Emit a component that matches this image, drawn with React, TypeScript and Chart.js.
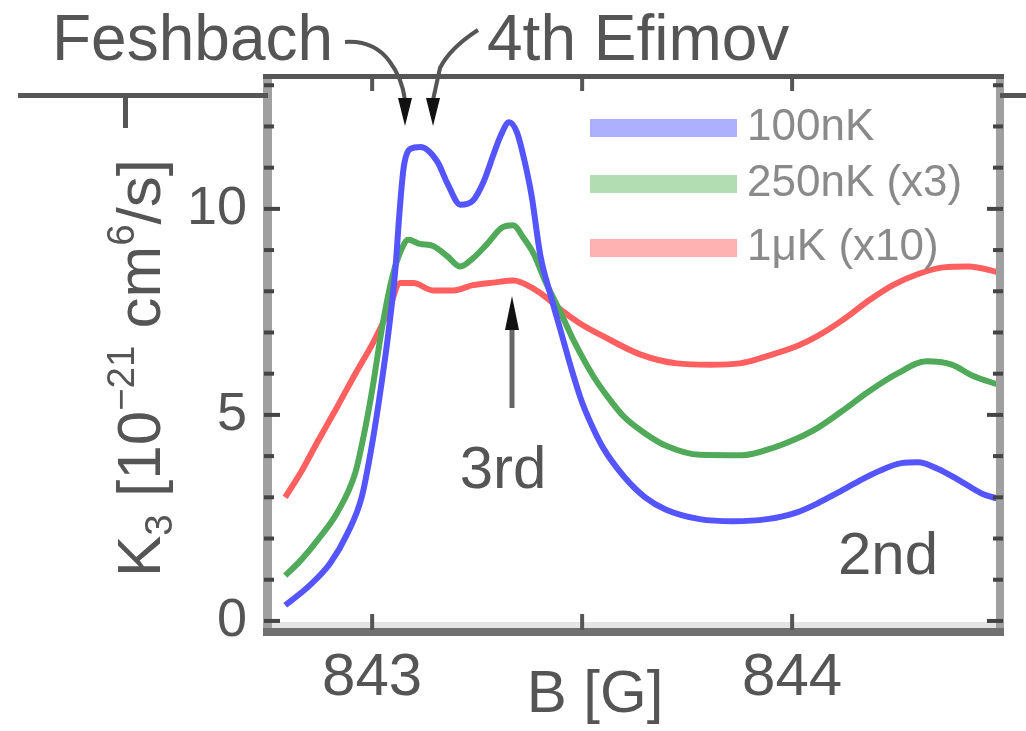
import React, { useEffect, useRef } from 'react';
import { Chart, registerables } from 'chart.js';

Chart.register(...registerables);

const FONT = "'Liberation Sans', Arial, sans-serif";

// ---- data ----
const xTickValues = [843, 844];
const xMinorTicks = [843, 843.5, 844];
const yTickValues = [0, 5, 10];

const seriesLabels = ['100nK', '250nK (x3)', '1\u03bcK (x10)'];

const blueX = [842.793, 842.85, 842.9, 842.94, 842.975, 843.0, 843.02, 843.04, 843.055, 843.065, 843.075, 843.09, 843.115, 843.155, 843.18, 843.21, 843.24, 843.265, 843.29, 843.307, 843.326, 843.345, 843.362, 843.38, 843.4, 843.425, 843.45, 843.475, 843.5, 843.525, 843.55, 843.6, 843.65, 843.7, 843.78, 843.86, 843.94, 844.01, 844.06, 844.11, 844.16, 844.21, 844.26, 844.3, 844.345, 844.4, 844.45, 844.495];
const blueY = [0.38, 0.85, 1.4, 2.1, 3.0, 4.3, 5.6, 7.1, 8.5, 9.9, 11.0, 11.45, 11.5, 11.15, 10.6, 10.1, 10.2, 10.65, 11.35, 11.8, 12.1, 11.85, 11.2, 10.3, 8.9, 7.9, 7.0, 6.1, 5.3, 4.7, 4.2, 3.5, 3.0, 2.7, 2.47, 2.42, 2.47, 2.63, 2.85, 3.12, 3.4, 3.65, 3.83, 3.85, 3.7, 3.4, 3.1, 2.95];

const greenX = [842.793, 842.83, 842.87, 842.917, 842.96, 842.98, 843.0, 843.025, 843.048, 843.067, 843.086, 843.114, 843.145, 843.179, 843.21, 843.24, 843.274, 843.31, 843.336, 843.36, 843.385, 843.412, 843.448, 843.483, 843.526, 843.56, 843.6, 843.65, 843.7, 843.78, 843.88, 843.96, 844.01, 844.06, 844.12, 844.18, 844.25, 844.32, 844.38, 844.43, 844.495];
const greenY = [1.1, 1.47, 1.96, 2.63, 3.6, 4.5, 5.6, 7.2, 8.35, 8.95, 9.25, 9.15, 9.1, 8.85, 8.6, 8.8, 9.15, 9.55, 9.6, 9.3, 8.9, 8.25, 7.5, 6.74, 5.95, 5.45, 4.95, 4.55, 4.25, 4.03, 4.02, 4.22, 4.42, 4.68, 5.1, 5.55, 6.0, 6.3, 6.22, 5.95, 5.72];

const redX = [842.793, 842.83, 842.87, 842.917, 842.96, 843.002, 843.038, 843.067, 843.098, 843.145, 843.193, 843.24, 843.288, 843.336, 843.383, 843.417, 843.448, 843.495, 843.55, 843.638, 843.726, 843.805, 843.876, 843.948, 844.012, 844.06, 844.12, 844.186, 844.24, 844.3, 844.36, 844.42, 844.495];
const redY = [3.0, 3.6, 4.35, 5.2, 6.0, 6.75, 7.5, 8.2, 8.2, 8.02, 8.02, 8.15, 8.21, 8.26, 8.07, 7.83, 7.56, 7.22, 6.91, 6.47, 6.25, 6.22, 6.25, 6.45, 6.67, 6.91, 7.3, 7.8, 8.15, 8.42, 8.58, 8.6, 8.45];

const seriesColors = ['rgb(85,85,255)', 'rgb(80,170,90)', 'rgb(255,95,95)'];
const legendColors = ['rgb(172,176,255)', 'rgb(178,220,178)', 'rgb(255,178,178)'];

const zip = (xs: number[], ys: number[]) => xs.map((x, i) => ({ x, y: ys[i] }));

type Seg = { t: string; sub?: boolean; sup?: boolean };

function drawRich(ctx: CanvasRenderingContext2D, segs: Seg[], x: number, y: number, size: number) {
  const widths = segs.map((s) => {
    const fs = s.sub || s.sup ? size * 0.62 : size;
    ctx.font = `${fs}px ${FONT}`;
    return ctx.measureText(s.t).width;
  });
  const total = widths.reduce((a, b) => a + b, 0);
  let cx = x - total / 2;
  ctx.textAlign = 'left';
  ctx.textBaseline = 'alphabetic';
  segs.forEach((s, i) => {
    const fs = s.sub || s.sup ? size * 0.62 : size;
    ctx.font = `${fs}px ${FONT}`;
    const dy = s.sup ? -size * 0.42 : s.sub ? size * 0.2 : 0;
    ctx.fillText(s.t, cx, y + dy);
    cx += widths[i];
  });
}

const decorPlugin = {
  id: 'decor',
  afterDraw(chart: any) {
    const { ctx, chartArea: a, scales } = chart;
    const xs = scales.x;
    const ys = scales.y;
    ctx.save();
    const w = a.right - a.left;
    const h = a.bottom - a.top;
    // frame
    ctx.fillStyle = '#e4e4e4';
    ctx.fillRect(a.left, a.bottom - 8, w, 6);
    ctx.fillStyle = '#a0a0a0';
    ctx.fillRect(a.left - 5, a.top - 2, 9, h + 6);
    ctx.fillRect(a.right - 4, a.top - 2, 8, h + 6);
    ctx.fillStyle = '#707070';
    ctx.fillRect(a.left - 5, a.bottom - 2, w + 9, 8);
    ctx.fillStyle = '#555';
    ctx.fillRect(a.left - 5, a.top - 3, w + 9, 5);
    // y ticks
    ctx.fillStyle = '#444';
    for (let v = 0; v <= 13; v++) {
      const py = ys.getPixelForValue(v);
      const major = v % 5 === 0;
      const len = major ? 16 : 10;
      ctx.fillRect(a.left - 4, py - 2, len, 4);
      ctx.fillRect(a.right + 3 - len, py - 2, len, 4);
    }
    // x ticks
    ctx.fillStyle = '#555';
    xMinorTicks.forEach((v) => {
      const px = xs.getPixelForValue(v);
      ctx.fillRect(px - 2, a.bottom - 16, 4, 16);
      ctx.fillRect(px - 2, a.top, 4, 14);
    });
    // side lines
    ctx.fillStyle = '#555';
    ctx.fillRect(18, 93, a.left - 18, 5);
    ctx.fillRect(123, 93, 5, 35);
    ctx.fillRect(a.right, 93, 1026 - a.right, 5);

    // legend
    const legY = [128, 184, 248];
    seriesLabels.forEach((lab, i) => {
      ctx.fillStyle = legendColors[i];
      ctx.fillRect(590, legY[i] - 9, 147, 18);
      ctx.fillStyle = '#8a8a8a';
      ctx.font = `44px ${FONT}`;
      ctx.textAlign = 'left';
      ctx.textBaseline = 'middle';
      ctx.fillText(lab, 747, legY[i]);
    });

    // annotations
    ctx.strokeStyle = '#555';
    ctx.lineWidth = 4;
    ctx.beginPath();
    ctx.moveTo(345, 42);
    ctx.quadraticCurveTo(374, 40, 390, 62);
    ctx.quadraticCurveTo(402, 78, 405, 100);
    ctx.stroke();
    ctx.beginPath();
    ctx.moveTo(478, 30);
    ctx.quadraticCurveTo(450, 48, 440, 68);
    ctx.lineTo(433, 100);
    ctx.stroke();
    ctx.fillStyle = '#111';
    ctx.beginPath();
    ctx.moveTo(398, 98); ctx.lineTo(412, 98); ctx.lineTo(405, 126); ctx.closePath(); ctx.fill();
    ctx.beginPath();
    ctx.moveTo(426, 98); ctx.lineTo(440, 98); ctx.lineTo(433, 126); ctx.closePath(); ctx.fill();
    // 3rd arrow
    ctx.strokeStyle = '#666';
    ctx.lineWidth = 5;
    ctx.beginPath();
    ctx.moveTo(512, 408); ctx.lineTo(512, 325); ctx.stroke();
    ctx.fillStyle = '#111';
    ctx.beginPath();
    ctx.moveTo(505, 330); ctx.lineTo(519, 330); ctx.lineTo(512, 296); ctx.closePath(); ctx.fill();

    // texts
    ctx.fillStyle = '#555';
    ctx.textBaseline = 'alphabetic';
    ctx.font = `64px ${FONT}`;
    ctx.textAlign = 'left';
    ctx.fillText('Feshbach', 52, 60);
    ctx.fillText('4th Efimov', 487, 60);
    ctx.font = `60px ${FONT}`;
    ctx.textAlign = 'center';
    ctx.fillText('3rd', 503, 488);
    ctx.textAlign = 'left';
    ctx.fillText('2nd', 838, 574);
    ctx.textAlign = 'center';
    ctx.fillText('B [G]', 595, 712);

    // y title
    ctx.save();
    ctx.translate(160, 368);
    ctx.rotate(-Math.PI / 2);
    drawRich(ctx, [
      { t: 'K' }, { t: '3', sub: true }, { t: ' [10' }, { t: '\u221221', sup: true },
      { t: ' cm' }, { t: '6', sup: true }, { t: '/s]' },
    ], 0, 0, 62);
    ctx.restore();
    ctx.restore();
  },
};

export default function App() {
  const ref = useRef<HTMLCanvasElement | null>(null);
  useEffect(() => {
    if (!ref.current) return;
    const chart = new Chart(ref.current, {
      type: 'scatter',
      data: {
        datasets: [
          { label: seriesLabels[0], data: zip(blueX, blueY), borderColor: seriesColors[0] },
          { label: seriesLabels[1], data: zip(greenX, greenY), borderColor: seriesColors[1] },
          { label: seriesLabels[2], data: zip(redX, redY), borderColor: seriesColors[2] },
        ].map((d) => ({
          ...d,
          showLine: true,
          pointRadius: 0,
          borderWidth: 6,
          cubicInterpolationMode: 'monotone' as const,
          backgroundColor: d.borderColor,
        })),
      },
      options: {
        responsive: false,
        animation: false,
        devicePixelRatio: 1,
        layout: { padding: { top: 77, right: 26, left: 0, bottom: 0 } },
        plugins: { legend: { display: false }, tooltip: { enabled: false } },
        scales: {
          x: {
            type: 'linear',
            min: 842.752,
            max: 844.495,
            afterFit: (s: any) => { s.height = 101; },
            afterBuildTicks: (s: any) => { s.ticks = xTickValues.map((v) => ({ value: v })); },
            ticks: {
              font: { family: FONT, size: 60 },
              color: '#555',
              padding: 12,
              autoSkip: false,
              maxRotation: 0,
              callback: (v: any) => String(v),
            },
            grid: { display: false, drawTicks: false },
            border: { display: false },
          },
          y: {
            type: 'linear',
            min: -0.22,
            max: 13.2,
            afterFit: (s: any) => { s.width = 268; },
            afterBuildTicks: (s: any) => { s.ticks = yTickValues.map((v) => ({ value: v })); },
            ticks: {
              font: { family: FONT, size: 54 },
              color: '#555',
              padding: 21,
              autoSkip: false,
              callback: (v: any) => String(v),
            },
            grid: { display: false, drawTicks: false },
            border: { display: false },
          },
        },
      },
      plugins: [decorPlugin],
    });
    return () => chart.destroy();
  }, []);
  return (
    <div style={{ position: 'fixed', left: 0, top: 0, width: 1026, height: 731, background: '#fff' }}>
      <canvas ref={ref} width={1026} height={731} style={{ display: 'block', width: 1026, height: 731 }} />
    </div>
  );
}
